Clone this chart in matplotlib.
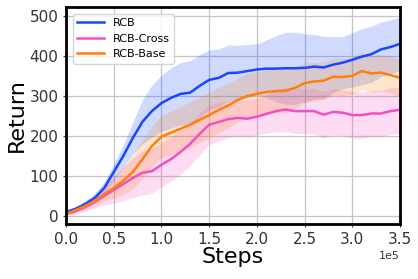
import matplotlib.pyplot as plt
import numpy as np

steps = np.arange(0, 360000, 10000)

rcb = [10, 18, 30, 45, 70, 110, 150, 195, 235, 262, 282, 295, 305, 308, 325, 340, 345, 357, 358, 362,
       366, 368, 368, 369, 369, 370, 373, 371, 378, 383, 390, 398, 404, 416, 422, 430]
rcb_std = [3, 5, 8, 12, 15, 20, 28, 40, 55, 65, 70, 75, 78, 80, 78, 75, 72, 70, 68, 66,
           64, 72, 82, 90, 90, 85, 80, 78, 70, 65, 68, 70, 70, 68, 68, 66]

cross = [5, 12, 22, 35, 50, 65, 80, 95, 108, 112, 128, 142, 160, 180, 205, 228, 235, 242, 245, 243,
         248, 255, 262, 266, 262, 262, 262, 253, 260, 258, 252, 252, 256, 256, 262, 265]
cross_std = [3, 6, 10, 15, 22, 33, 42, 50, 55, 55, 55, 55, 55, 55, 52, 50, 48, 46, 46, 46,
             46, 48, 52, 55, 56, 56, 57, 58, 58, 58, 58, 58, 58, 58, 58, 58]

base = [5, 15, 25, 38, 55, 70, 88, 110, 142, 175, 198, 208, 218, 228, 240, 252, 265, 276, 290, 300,
        305, 310, 312, 313, 320, 332, 336, 338, 348, 347, 350, 362, 356, 358, 352, 345]
base_std = [3, 5, 8, 12, 18, 25, 35, 42, 48, 50, 52, 54, 56, 57, 57, 57, 57, 56, 55, 55,
            55, 55, 55, 55, 52, 50, 48, 47, 46, 46, 46, 46, 46, 46, 46, 46]

series = [('RCB', rcb, rcb_std, '#1548ff'),
          ('RCB-Cross', cross, cross_std, '#f24fc4'),
          ('RCB-Base', base, base_std, '#ff7f0e')]

fig = plt.figure(figsize=(4.18, 2.79), dpi=100)
ax = fig.add_axes([0.158, 0.197, 0.799, 0.778])

for name, mean, std, col in series:
    mean = np.array(mean)
    std = np.array(std)
    ax.plot(steps, mean, color=col, lw=1.8, label=name)
    ax.fill_between(steps, mean - std, mean + std, color=col, alpha=0.2, lw=0)

ax.set_xlim(0, 350000)
ax.set_ylim(-20, 522)
ax.set_yticks([0, 100, 200, 300, 400, 500])
ax.ticklabel_format(style='sci', axis='x', scilimits=(0, 0))
ax.xaxis.get_offset_text().set_fontsize(8)
ax.grid(True, color='#c4c4c4', lw=0.9)
ax.set_axisbelow(True)
for s in ax.spines.values():
    s.set_linewidth(2)
    s.set_color('black')
ax.tick_params(labelsize=11, length=2, colors='#333333')
ax.set_xlabel('Steps', fontsize=16, labelpad=0)
ax.set_ylabel('Return', fontsize=16, labelpad=2)
ax.legend(loc='upper left', fontsize=8, handlelength=2.4, borderaxespad=0.6)

fig.savefig('out.png', dpi=100)
